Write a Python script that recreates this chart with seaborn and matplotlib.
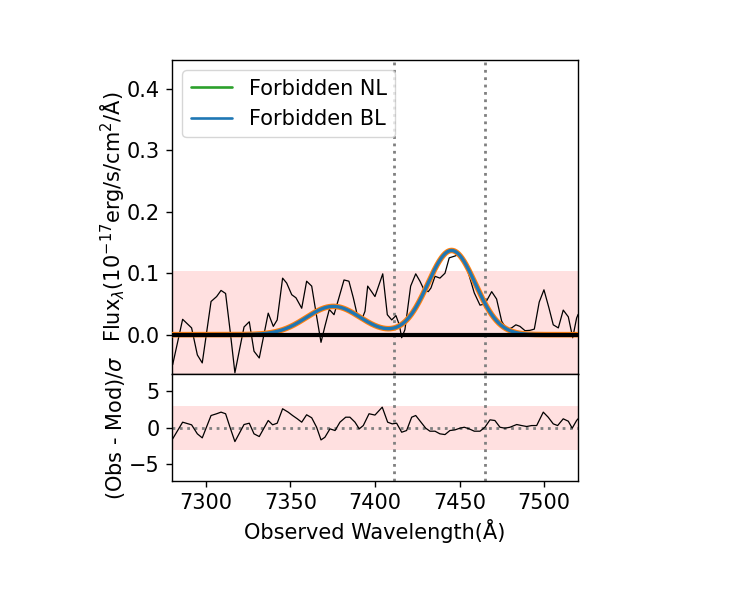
import numpy as np
import matplotlib
matplotlib.use("Agg")
import matplotlib.pyplot as plt
from matplotlib.lines import Line2D
import seaborn as sns

# ---------------- data ----------------
wave_obs = [7280.4, 7286.3, 7291.6, 7295.0, 7297.9, 7303.1, 7306.4, 7309.0, 7311.7, 7314.3,
            7317.2, 7322.6, 7325.7, 7328.5, 7331.6, 7336.9, 7339.9, 7342.2, 7345.4, 7347.8,
            7350.8, 7353.3, 7356.7, 7359.6, 7362.6, 7365.5, 7368.1, 7370.4, 7373.0, 7375.8,
            7378.9, 7381.7, 7384.6, 7387.2, 7389.5, 7392.1, 7394.1, 7395.7, 7398.0, 7400.0,
            7404.6, 7407.3, 7409.9, 7412.4, 7414.4, 7415.8, 7417.7, 7421.1, 7424.1, 7426.6,
            7429.0, 7431.5, 7433.1, 7435.5, 7438.4, 7441.4, 7443.9, 7447.3, 7449.2, 7452.8,
            7455.7, 7458.7, 7462.1, 7465.0, 7469.0, 7471.9, 7474.9, 7477.9, 7480.8, 7483.3,
            7485.7, 7488.7, 7491.6, 7494.2, 7497.1, 7499.9, 7502.9, 7505.4, 7508.4, 7511.3,
            7514.3, 7516.9, 7519.2, 7520.1]
flux_obs = [-0.049, 0.025, 0.011, -0.033, -0.046, 0.054, 0.062, 0.072, 0.067, 0.008,
            -0.062, 0.0125, 0.021, -0.027, -0.038, 0.035, 0.0135, 0.024, 0.092, 0.084,
            0.065, 0.060, 0.043, 0.087, 0.079, 0.030, -0.0125, 0.0135, 0.041, 0.0325,
            0.062, 0.089, 0.087, 0.060, 0.0325, 0.024, 0.038, 0.079, 0.070, 0.062,
            0.099, 0.0325, 0.024, 0.031, 0.016, -0.005, 0.008, 0.079, 0.099, 0.087,
            0.073, 0.070, 0.076, 0.095, 0.092, 0.100, 0.125, 0.128, 0.130, 0.121,
            0.096, 0.068, 0.048, 0.050, 0.070, 0.058, 0.022, 0.008, 0.011, 0.016,
            0.0135, 0.0065, 0.007, 0.009, 0.053, 0.073, 0.043, 0.016, 0.011, 0.040,
            0.029, -0.005, 0.027, 0.033]

wave_res = [7280.4, 7286.3, 7291.6, 7295.0, 7297.9, 7303.1, 7306.4, 7309.0, 7311.7, 7314.3,
            7317.2, 7322.6, 7325.7, 7328.5, 7331.6, 7336.9, 7339.5, 7342.2, 7345.4, 7348.7,
            7351.3, 7354.1, 7356.7, 7359.6, 7362.6, 7365.5, 7368.1, 7370.4, 7373.4, 7376.4,
            7379.3, 7382.7, 7385.2, 7388.2, 7390.7, 7393.1, 7396.5, 7400.0, 7404.3, 7407.5,
            7410.2, 7412.8, 7415.8, 7418.7, 7421.7, 7424.1, 7427.2, 7430.0, 7432.5, 7435.5,
            7438.4, 7441.4, 7444.3, 7447.3, 7450.2, 7452.8, 7455.7, 7458.7, 7462.1, 7465.0,
            7468.0, 7470.9, 7473.9, 7476.8, 7479.8, 7483.8, 7486.7, 7489.7, 7492.6, 7495.6,
            7499.5, 7502.4, 7505.4, 7508.0, 7511.3, 7514.3, 7516.6, 7519.2, 7520.1]
resid = [-1.55, 0.73, 0.37, -0.86, -1.41, 1.64, 1.88, 2.1, 1.88, 0.04,
         -1.92, 0.41, 0.59, -0.86, -1.23, 0.96, 0.37, 0.59, 2.56, 2.1,
         1.64, 1.19, 0.73, 1.74, 1.33, 0.04, -1.69, -1.33, -0.18, -0.41,
         0.73, 1.41, 1.41, 0.73, -0.18, 0.27, 1.88, 1.7, 2.78, 0.73,
         0.5, 0.59, -0.64, -0.41, 1.41, 1.64, 0.73, -0.09, -0.5, -0.5,
         -0.86, -0.96, -0.41, -0.32, -0.09, 0.04, -0.18, -0.5, -0.5, 0.04,
         1.05, 0.96, 0.04, -0.09, 0.04, 0.41, 0.27, 0.14, 0.27, 0.27,
         2.1, 1.41, 0.5, 0.27, 1.19, 0.86, -0.09, 0.96, 1.2]

# Gaussian fit components (broad forbidden lines)
bl_centers = [7375.4, 7445.3]
bl_amps = [0.046, 0.137]
bl_sigmas = [16.0, 14.0]
nl_amps = [0.0, 0.0]

line_marks = [7411.0, 7465.0]
flux_band = 0.103
res_band = 3.0
legend_labels = ["Forbidden NL", "Forbidden BL"]
legend_colors = ["#2ca02c", "#1f77b4"]

# ---------------- style ----------------
sns.set_theme(style="ticks", rc={
    "axes.edgecolor": "black", "xtick.color": "black", "ytick.color": "black",
    "axes.labelcolor": "black", "text.color": "black", "axes.linewidth": 1.0,
    "xtick.major.size": 4.4, "ytick.major.size": 4.4,
    "xtick.major.width": 1.0, "ytick.major.width": 1.0,
    "xtick.major.pad": 4.4, "ytick.major.pad": 4.4,
    "font.size": 15, "axes.labelsize": 15, "xtick.labelsize": 15,
    "ytick.labelsize": 15, "legend.fontsize": 15,
})
plt.rcParams["font.family"] = ["DejaVu Sans"]
plt.rcParams["mathtext.fontset"] = "dejavusans"

fig = plt.figure(figsize=(7.5, 6), dpi=100)
ax1 = fig.add_axes([0.2293, 0.3767, 0.5413, 0.5233])
ax2 = fig.add_axes([0.2293, 0.1983, 0.5413, 0.1783], sharex=ax1)

# model on fine grid
wgrid = np.linspace(7280, 7520, 1200)
bl_model = np.zeros_like(wgrid)
for c, a, s in zip(bl_centers, bl_amps, bl_sigmas):
    bl_model += a * np.exp(-0.5 * ((wgrid - c) / s) ** 2)
nl_model = np.zeros_like(wgrid)
for c, a, s in zip(bl_centers, nl_amps, bl_sigmas):
    nl_model += a * np.exp(-0.5 * ((wgrid - c) / s) ** 2)
total = bl_model + nl_model

ax1.axhspan(-flux_band, flux_band, color="red", alpha=0.12, lw=0, zorder=0)
sns.lineplot(x=wave_obs, y=flux_obs, ax=ax1, color="black", lw=0.9, zorder=3,
             sort=False, estimator=None)
ax1.plot(wgrid, nl_model, color="#2ca02c", lw=1.9, zorder=4)
ax1.plot(wgrid, total, color="#ff7f0e", lw=4.0, zorder=4)
ax1.plot(wgrid, bl_model, color="#1f77b4", lw=2.4, zorder=5)
ax1.axhline(0, color="black", lw=3.0, zorder=6)
for m in line_marks:
    ax1.axvline(m, color="gray", ls=":", lw=2, zorder=2)

handles = [Line2D([0], [0], color=c, lw=1.9) for c in legend_colors]
ax1.legend(handles, legend_labels, loc="upper left", frameon=True)

ax1.set_xlim(7280, 7520)
ax1.set_ylim(-0.064, 0.447)
ax1.set_yticks([0.0, 0.1, 0.2, 0.3, 0.4])
ax1.set_ylabel(r"Flux$_\lambda$($10^{-17}$erg/s/cm$^2$/Å)")
ax1.tick_params(labelbottom=False)
ax1.set_xlabel("")

ax2.axhspan(-res_band, res_band, color="red", alpha=0.12, lw=0, zorder=0)
sns.lineplot(x=wave_res, y=resid, ax=ax2, color="black", lw=0.9, zorder=3,
             sort=False, estimator=None)
ax2.axhline(0, color="gray", ls=":", lw=2, zorder=2)
for m in line_marks:
    ax2.axvline(m, color="gray", ls=":", lw=2, zorder=2)
ax2.set_ylim(-7.3, 7.3)
ax2.set_yticks([-5, 0, 5])
ax2.set_xticks([7300, 7350, 7400, 7450, 7500])
ax2.set_xlim(7280, 7520)
ax2.set_ylabel(r"(Obs - Mod)/$\sigma$")
ax2.set_xlabel("Observed Wavelength(Å)")

for ax in (ax1, ax2):
    for sp in ax.spines.values():
        sp.set_visible(True)

ax1.yaxis.set_label_coords(-0.112, 0.5)
ax2.yaxis.set_label_coords(-0.112, 0.5)
fig.savefig("out.png", dpi=100)
